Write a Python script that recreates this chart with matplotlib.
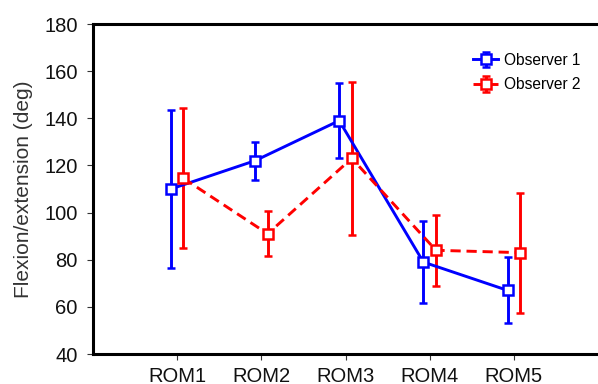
import numpy as np
import matplotlib.pyplot as plt

plt.rcParams['font.family'] = ['Liberation Sans', 'DejaVu Sans']

categories = ['ROM1', 'ROM2', 'ROM3', 'ROM4', 'ROM5']
obs1_mean = [110, 122, 139, 79, 67]
obs1_sd = [33.5, 8, 15.8, 17.5, 14]
obs2_mean = [114.5, 91, 123, 84, 83]
obs2_sd = [29.7, 9.5, 32.6, 15, 25.5]

x = np.arange(1, len(categories) + 1)
offset = 0.075

fig = plt.figure(figsize=(5.98, 3.84), dpi=100)
ax = fig.add_axes([93 / 598, 30 / 384, 505 / 598, 330 / 384])

common = dict(marker='s', markersize=6.5, markerfacecolor='white', markeredgewidth=1.8,
              capsize=3, capthick=2, elinewidth=2.1, lw=2.1)
ax.errorbar(x - offset, obs1_mean, yerr=obs1_sd, color='#0000ff', ls='-',
            label='Observer 1', **common)
ax.errorbar(x + offset, obs2_mean, yerr=obs2_sd, color='#ff0000', ls='--',
            dashes=(3.5, 2), label='Observer 2', **common)

ax.set_xlim(0, 6)
ax.set_ylim(40, 180)
ax.set_yticks(np.arange(40, 181, 20))
ax.set_xticks(x)
ax.set_xticklabels(categories)
ax.tick_params(axis='y', length=4, width=0.8, color='#333333', pad=7,
               labelsize=14.5, labelcolor='#111111')
ax.tick_params(axis='x', length=4, width=0.8, color='#333333', pad=5,
               labelsize=14.5, labelcolor='#111111')
ax.set_ylabel('Flexion/extension (deg)', fontsize=15, color='#333333', labelpad=8)

for s in ['left', 'bottom', 'top']:
    ax.spines[s].set_linewidth(2.2)
ax.spines['right'].set_visible(False)

ax.legend(loc='upper right', bbox_to_anchor=(0.994, 0.955), frameon=False,
          fontsize=11.2, handlelength=1.6, handletextpad=0.4, labelspacing=0.6)

fig.savefig('out.png', dpi=100)
